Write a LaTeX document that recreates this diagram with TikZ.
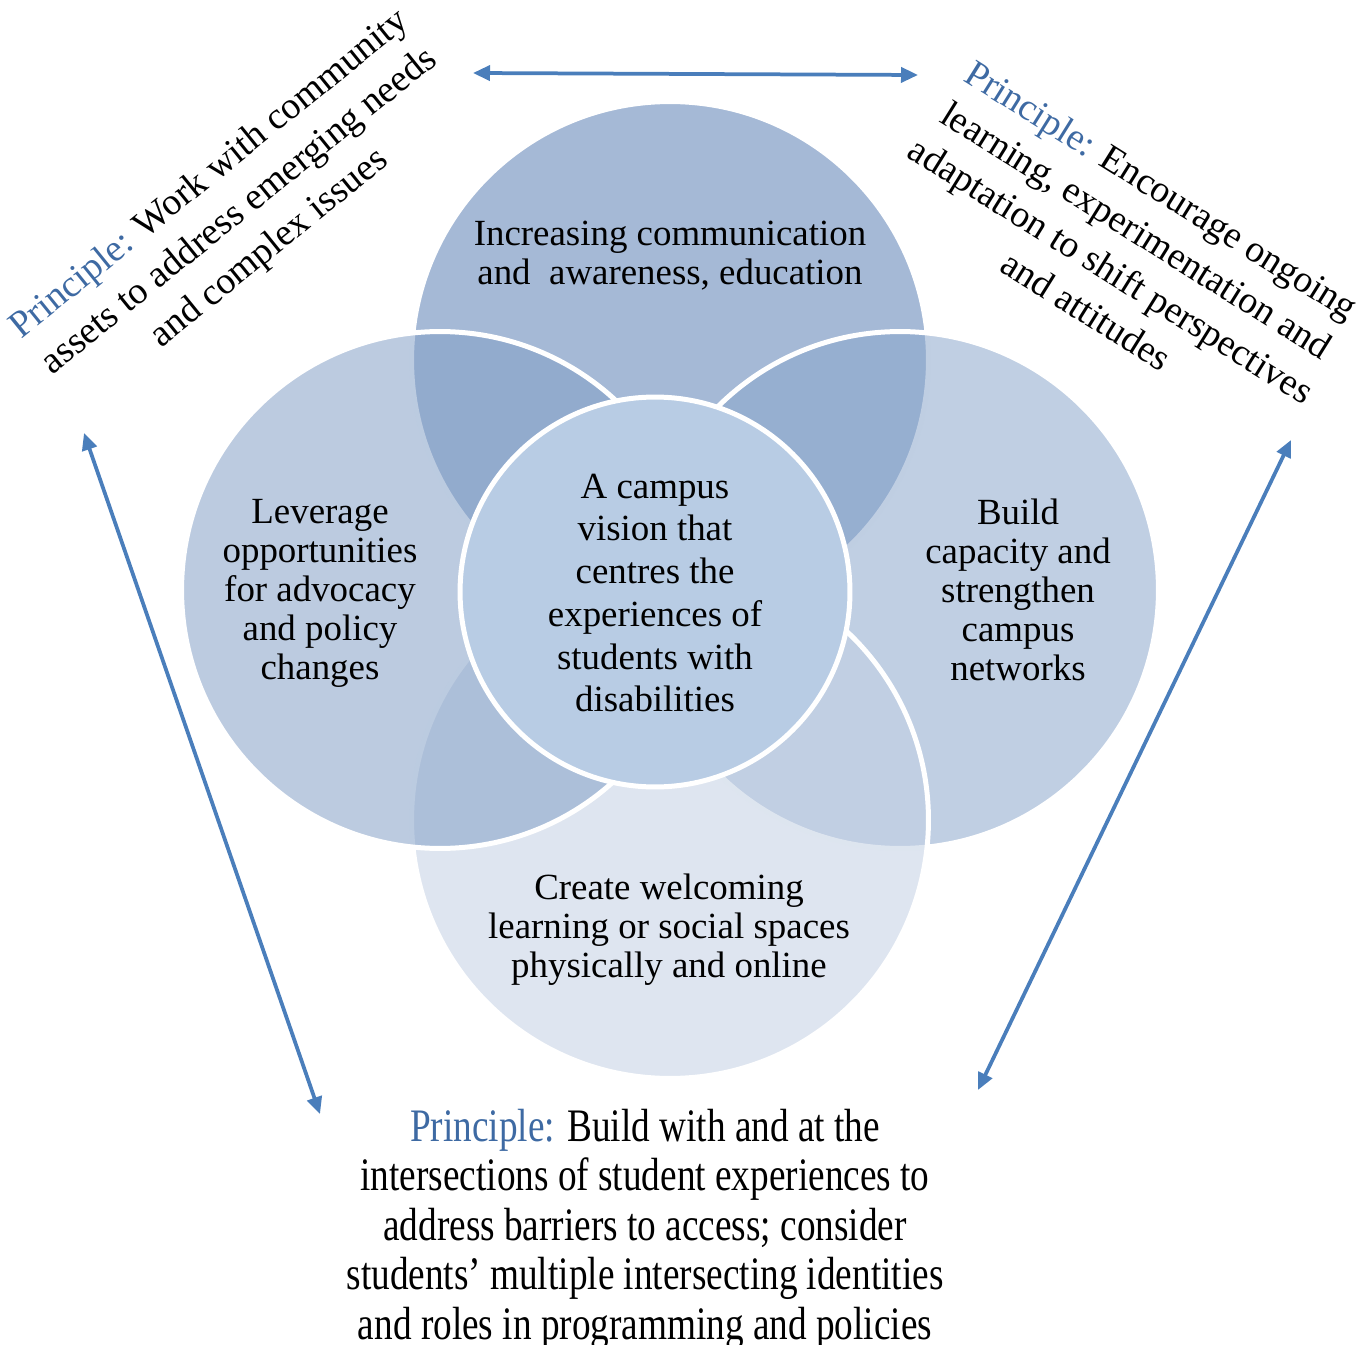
\documentclass[tikz,border=0pt]{standalone}
\usepackage{fontspec}
\setmainfont{Liberation Serif}
\newfontfamily\tallfont{Liberation Serif}[FakeStretch=0.8]
\usetikzlibrary{arrows.meta}

\definecolor{topfill}{RGB}{88,125,179}
\definecolor{rightfill}{RGB}{138,166,203}
\definecolor{bottomfill}{RGB}{194,207,227}
\definecolor{leftfill}{RGB}{131,159,198}
\definecolor{centrefill}{RGB}{184,204,228}
\definecolor{arrowblue}{RGB}{74,126,187}
\definecolor{princblue}{RGB}{62,106,163}

\begin{document}
\begin{tikzpicture}[x=0.02cm, y=-0.02cm, >={Triangle[length=0.34cm,width=0.3cm]}]
    \tikzstyle{venn}=[circle, draw=white, line width=0.1cm, minimum size=10.34cm, inner sep=0pt, fill opacity=0.54]
    \tikzstyle{centre}=[circle, draw=white, line width=0.1cm, minimum size=7.8cm, inner sep=0pt, fill=centrefill]
    \tikzstyle{annot}=[align=center, font=\fontsize{21}{22.2}\selectfont]
    \tikzstyle{principle}=[align=center, font=\fontsize{21.5}{27}\selectfont]
    \tikzstyle{link}=[<->, draw=arrowblue, line width=0.075cm]

    \useasboundingbox (0,0) rectangle (1364,1344);

    % Draw the four outer circles, top first
    \foreach \name/\x/\y/\col in {top/670/360/topfill, right/900/590/rightfill, bottom/670/820/bottomfill, left/440/590/leftfill}
      \path node[venn, fill=\col] (C-\name) at (\x,\y) {};

    % Draw the centre circle
    \node[centre] (C-centre) at (655,592) {};

    % Texts in the circles
    \node[annot] (L-top) at (670,256) {Increasing communication\\and\ \ awareness, education};
    \node[annot] (L-left) at (320,593) {Leverage\\opportunities\\for advocacy\\and policy\\changes};
    \node[annot] (L-right) at (1018,590) {Build\\capacity and\\strengthen\\campus\\networks};
    \node[annot] (L-bottom) at (669,930) {Create welcoming\\learning or social spaces\\physically and online};
    \node[annot, font=\fontsize{21}{24.3}\selectfont] (L-centre) at (655,593) {A campus\\vision that\\centres the\\experiences of\\students with\\disabilities};

    % Principles round the circles
    \node[principle, rotate=39] (P-1) at (240,212) {\textcolor{princblue}{Principle:} Work with community\\assets to address emerging needs\\and complex issues};
    \node[principle, rotate=-32] (P-2) at (1124,250) {\textcolor{princblue}{Principle:} Encourage ongoing\\learning, experimentation and\\adaptation to shift perspectives\\and attitudes};
    \node[annot, font=\tallfont\fontsize{26.5}{28.2}\selectfont] (P-3) at (645,1229) {\textcolor{princblue}{Principle:} Build with and at the\\intersections of student experiences to\\address barriers to access; consider\\students’ multiple intersecting identities\\and roles in programming and policies};

    % Arrows between the principles
    \coordinate (A-1) at (473,73);
    \coordinate (A-2) at (918,75);
    \coordinate (A-3) at (84,433);
    \coordinate (A-4) at (320,1114);
    \coordinate (A-5) at (1291,440);
    \coordinate (A-6) at (978,1090);
    \draw[link] (A-1) -- (A-2);
    \draw[link] (A-3) -- (A-4);
    \draw[link] (A-5) -- (A-6);
\end{tikzpicture}
\end{document}
